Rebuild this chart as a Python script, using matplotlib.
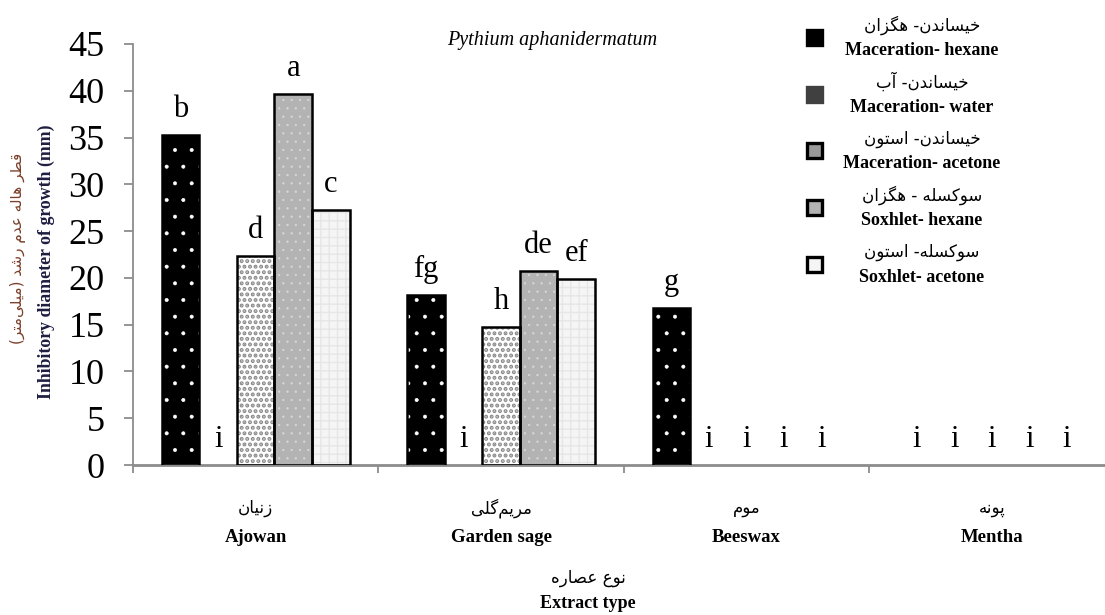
import matplotlib
matplotlib.use("Agg")
import matplotlib.pyplot as plt
import matplotlib.transforms as mtransforms
from matplotlib.patches import Rectangle
import numpy as np

# ---- data ----
plants_en = ["Ajowan", "Garden sage", "Beeswax", "Mentha"]
plants_fa = ["زنیان", "مریم\u200cگلی", "موم", "پونه"]

series_en = ["Maceration- hexane", "Maceration- water", "Maceration- acetone",
             "Soxhlet- hexane", "Soxhlet- acetone"]
series_fa = ["خیساندن- هگزان", "خیساندن- آب", "خیساندن- استون",
             "سوکسله - هگزان", "سوکسله- استون"]

mac_hexane = [35.3, 18.2, 16.8, 0]
mac_water = [0, 0, 0, 0]
mac_acetone = [22.3, 14.7, 0, 0]
sox_hexane = [39.7, 20.7, 0, 0]
sox_acetone = [27.3, 19.9, 0, 0]
values = [mac_hexane, mac_water, mac_acetone, sox_hexane, sox_acetone]

# Duncan letters, one list per series (same order as values)
letters = [["b", "fg", "g", "i"],
           ["i", "i", "i", "i"],
           ["d", "h", "i", "i"],
           ["a", "de", "i", "i"],
           ["c", "ef", "i", "i"]]

title = "Pythium aphanidermatum"
ylabel_en = "Inhibitory diameter of growth (mm)"
ylabel_fa = "قطر هاله عدم رشد (میلی\u200cمتر)"
xlabel_en = "Extract type"
xlabel_fa = "نوع عصاره"

# (face, hatch, hatch colour, hatch linewidth) per series
styles = [("black", ".", "white", 0.4),
          ("#404040", "", "#404040", 1.0),
          ("white", "...", "#8a8a8a", 2.0),
          ("#b3b3b3", "..", "#d8d8d8", 0.4),
          ("#f5f5f5", "++", "#e6e6e6", 1.0)]

# ---- minimal Persian shaping (matplotlib has no bidi / joining) ----
# isolated, final, initial, medial
FORMS = {
    "ا": ("\uFE8D", "\uFE8E", None, None),
    "آ": ("\uFE81", "\uFE82", None, None),
    "د": ("\uFEA9", "\uFEAA", None, None),
    "ر": ("\uFEAD", "\uFEAE", None, None),
    "ز": ("\uFEAF", "\uFEB0", None, None),
    "و": ("\uFEED", "\uFEEE", None, None),
    "ب": ("\uFE8F", "\uFE90", "\uFE91", "\uFE92"),
    "پ": ("\uFB56", "\uFB57", "\uFB58", "\uFB59"),
    "ت": ("\uFE95", "\uFE96", "\uFE97", "\uFE98"),
    "خ": ("\uFEA5", "\uFEA6", "\uFEA7", "\uFEA8"),
    "س": ("\uFEB1", "\uFEB2", "\uFEB3", "\uFEB4"),
    "ش": ("\uFEB5", "\uFEB6", "\uFEB7", "\uFEB8"),
    "ص": ("\uFEB9", "\uFEBA", "\uFEBB", "\uFEBC"),
    "ط": ("\uFEC1", "\uFEC2", "\uFEC3", "\uFEC4"),
    "ع": ("\uFEC9", "\uFECA", "\uFECB", "\uFECC"),
    "ق": ("\uFED5", "\uFED6", "\uFED7", "\uFED8"),
    "ک": ("\uFB8E", "\uFB8F", "\uFB90", "\uFB91"),
    "گ": ("\uFB92", "\uFB93", "\uFB94", "\uFB95"),
    "ل": ("\uFEDD", "\uFEDE", "\uFEDF", "\uFEE0"),
    "م": ("\uFEE1", "\uFEE2", "\uFEE3", "\uFEE4"),
    "ن": ("\uFEE5", "\uFEE6", "\uFEE7", "\uFEE8"),
    "ه": ("\uFEE9", "\uFEEA", "\uFEEB", "\uFEEC"),
    "ی": ("\uFBFC", "\uFBFD", "\uFBFE", "\uFBFF"),
}


def fa(s):
    out = []
    for i, c in enumerate(s):
        if c not in FORMS:
            if c != "\u200c":
                out.append(c)
            continue
        f = FORMS[c]
        prev = s[i - 1] if i > 0 else ""
        nxt = s[i + 1] if i + 1 < len(s) else ""
        jp = prev in FORMS and FORMS[prev][2] is not None
        jn = f[2] is not None and nxt in FORMS
        out.append(f[3] if jp and jn else f[1] if jp else f[2] if jn else f[0])
    mirror = {"(": ")", ")": "("}
    return "".join(mirror.get(c, c) for c in reversed(out))


SERIF = ["Liberation Serif", "DejaVu Serif"]
ARAB = ["DejaVu Sans"]
W, H = 1105, 615

fig = plt.figure(figsize=(W / 100, H / 100), dpi=100)
ax = fig.add_axes([133 / W, 150 / H, 972 / W, 421 / H])

x = np.arange(len(plants_en))
bw = 0.153
for j, (vals, (face, hatch, hcol, hlw)) in enumerate(zip(values, styles)):
    xs = x + (j - 2) * bw
    v = np.array(vals, dtype=float)
    keep = v > 0
    if keep.any():
        with plt.rc_context({"hatch.linewidth": hlw}):
            bars = ax.bar(xs[keep], v[keep], bw, color=face, edgecolor=hcol,
                          hatch=hatch, linewidth=0, zorder=2)
        for b in bars:
            if hasattr(b, "set_hatch_linewidth"):
                b.set_hatch_linewidth(hlw)
        ax.bar(xs[keep], v[keep], bw, facecolor="none", edgecolor="black",
               linewidth=1.8, zorder=3)
    for xi, vi, lab in zip(xs, v, letters[j]):
        ax.annotate(lab, (xi, vi), xytext=(0, 13), textcoords="offset points",
                    ha="center", va="baseline", fontsize=22, family=SERIF)

ax.set_ylim(0, 45)
ax.set_yticks(range(0, 46, 5))
ax.set_xticks([-0.5, 0.5, 1.5, 2.5])
ax.set_xticklabels([])
ax.set_xlim(-0.5, -0.5 + 972 / 245.4)
for t in ax.get_yticklabels():
    t.set_family(SERIF)
    t.set_fontsize(26)
ax.tick_params(axis="y", length=6.5, width=1.3, color="#8c8c8c", pad=14)
ax.tick_params(axis="x", length=6, width=1.3, color="#8c8c8c")
for s in ("top", "right"):
    ax.spines[s].set_visible(False)
ax.spines["left"].set_color("#8c8c8c")
ax.spines["left"].set_linewidth(1.3)
ax.spines["bottom"].set_color("#8c8c8c")
ax.spines["bottom"].set_linewidth(2)

# category labels (Persian above English)
tr = mtransforms.blended_transform_factory(ax.transData, fig.transFigure)
for xi, en, f in zip(x, plants_en, plants_fa):
    ax.text(xi, 1 - 508 / H, fa(f), transform=tr, ha="center", va="center",
            fontsize=12, family=ARAB)
    ax.text(xi, 1 - 538 / H, en, transform=tr, ha="center", va="center",
            fontsize=13.5, family=SERIF, weight="bold")

fig.text(588 / W, 1 - 578 / H, fa(xlabel_fa), ha="center", va="center",
         fontsize=12, family=ARAB)
fig.text(588 / W, 1 - 604 / H, xlabel_en, ha="center", va="center",
         fontsize=13, family=SERIF, weight="bold")

fig.text(18 / W, 1 - 248 / H, fa(ylabel_fa), rotation=90, ha="center",
         va="center", fontsize=11, family=ARAB, color="#7b3f2a")
fig.text(46 / W, 1 - 262 / H, ylabel_en, rotation=90, ha="center",
         va="center", fontsize=12.8, family=SERIF, weight="bold",
         color="#1e1e40")

fig.text(552 / W, 1 - 40 / H, title, ha="center", va="center", fontsize=14.5,
         family=SERIF, style="italic")

# legend, drawn by hand: square + two-line label
legend_edges = ["black", "#404040", "black", "black", "black"]
legend_faces = ["black", "#404040", "#9a9a9a", "#b3b3b3", "#f5f5f5"]
for j, (en, f) in enumerate(zip(series_en, series_fa)):
    yc = 37.5 + 56.7 * j
    sq = 15
    fig.patches.append(Rectangle(((814 - sq / 2) / W, 1 - (yc + sq / 2) / H),
                                 sq / W, sq / H, transform=fig.transFigure,
                                 facecolor=legend_faces[j],
                                 edgecolor=legend_edges[j], linewidth=2.4))
    fig.text(922 / W, 1 - (yc - 12) / H, fa(f), ha="center", va="center",
             fontsize=12, family=ARAB)
    fig.text(922 / W, 1 - (yc + 13) / H, en, ha="center", va="center",
             fontsize=13, family=SERIF, weight="bold")

fig.savefig("out.png", dpi=100)
